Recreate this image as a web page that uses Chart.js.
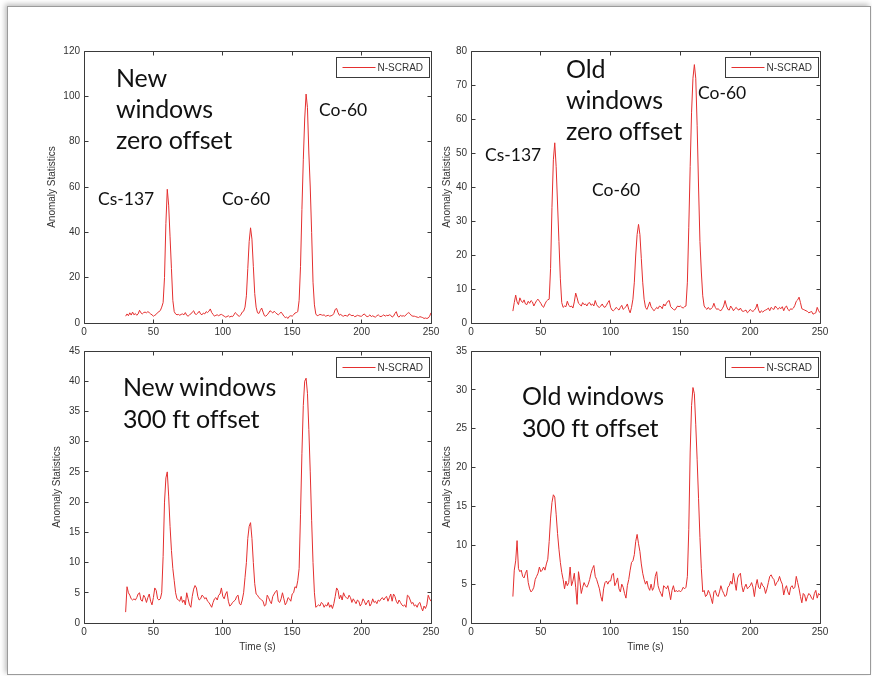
<!DOCTYPE html>
<html>
<head>
<meta charset="utf-8">
<title>N-SCRAD anomaly statistics</title>
<script src="https://cdn.jsdelivr.net/npm/chart.js@4.4.1/dist/chart.umd.min.js"></script>
<style>
  body { margin: 0; background: #fff; width: 872px; height: 676px; overflow: hidden; position: relative; }
  .frame { position: absolute; left: 7px; top: 6px; width: 862px; height: 667px; border: 1px solid #9b9b9b; box-shadow: -2px -2px 5px rgba(0,0,0,0.25); background: #fff; }
  canvas { position: absolute; }
  .note { position: absolute; font-family: Lato, "Open Sans", sans-serif; color: #111; white-space: nowrap; }
  .big { font-size: 25px; line-height: 31px; letter-spacing: -0.15px; }
  .big2 { font-size: 25px; line-height: 32px; letter-spacing: -0.15px; }
  .small { font-size: 17.5px; line-height: 24px; }
</style>
</head>
<body>
<div class="frame"></div>

<canvas id="newZero" width="397" height="298" style="left:46px;top:41px"></canvas>
<canvas id="oldZero" width="391" height="298" style="left:441px;top:41px"></canvas>
<canvas id="new300" width="392" height="314" style="left:51px;top:341px"></canvas>
<canvas id="old300" width="391" height="314" style="left:441px;top:341px"></canvas>

<div class="note big" style="left:116px;top:62px">New<br>windows<br>zero offset</div>
<div class="note small" style="left:98px;top:187px">Cs-137</div>
<div class="note small" style="left:222px;top:187px">Co-60</div>
<div class="note small" style="left:319px;top:98px">Co-60</div>

<div class="note big" style="left:566px;top:53px">Old<br>windows<br>zero offset</div>
<div class="note small" style="left:485px;top:143px">Cs-137</div>
<div class="note small" style="left:592px;top:178px">Co-60</div>
<div class="note small" style="left:698px;top:81px">Co-60</div>

<div class="note big2" style="left:123px;top:370px">New windows<br>300 ft offset</div>
<div class="note big2" style="left:522px;top:379px">Old windows<br>300 ft offset</div>

<script>
// time axis: one sample per second starting at 30 s
const startTime = 30;
const timeTicks = [0, 50, 100, 150, 200, 250];

const newZeroTicks = [0, 20, 40, 60, 80, 100, 120];
const oldZeroTicks = [0, 10, 20, 30, 40, 50, 60, 70, 80];
const new300Ticks = [0, 5, 10, 15, 20, 25, 30, 35, 40, 45];
const old300Ticks = [0, 5, 10, 15, 20, 25, 30, 35];

// New windows, zero offset
const newZero = [
  3.0, 4.0, 3.2, 4.5, 3.5, 4.8, 3.6, 4.2, 3.4, 4.0,
  5.6, 4.5, 4.0, 4.6, 4.8, 4.5, 5.0, 4.6, 4.0, 3.6,
  3.0, 3.4, 3.8, 4.6, 5.0, 5.5, 7.0, 9.0, 20, 44,
  59, 52, 38, 24, 10, 5.0, 4.0, 3.6, 3.8, 3.4,
  3.8, 4.0, 3.6, 4.6, 3.4, 3.0, 3.6, 4.0, 4.8, 5.4,
  4.0, 3.8, 4.4, 5.2, 4.0, 3.6, 4.4, 4.0, 5.0, 4.6,
  5.2, 6.2, 4.6, 3.8, 3.0, 3.4, 3.6, 3.2, 3.6, 3.8,
  3.4, 3.0, 2.6, 2.8, 3.2, 2.6, 3.0, 2.8, 3.6, 4.6,
  4.0, 3.2, 3.0, 3.6, 4.8, 5.2, 7.0, 12, 24, 36,
  42, 37, 25, 13, 7.0, 4.5, 4.2, 5.5, 6.6, 4.8,
  3.2, 3.0, 3.6, 4.4, 5.4, 5.0, 4.4, 5.2, 4.6, 4.0,
  3.6, 4.2, 4.8, 4.0, 3.0, 2.4, 2.6, 2.0, 3.0, 3.2,
  3.0, 3.6, 4.4, 4.6, 5.0, 10, 25, 50, 72, 90,
  101, 95, 75, 60, 40, 18, 8.0, 4.0, 3.2, 3.4,
  3.8, 3.6, 3.4, 3.6, 3.0, 3.2, 3.4, 3.0, 3.2, 3.4,
  4.2, 6.0, 6.4, 4.6, 3.4, 3.8, 3.2, 3.0, 3.4, 3.2,
  3.0, 4.0, 3.6, 3.2, 3.4, 2.8, 3.0, 3.4, 3.2, 3.0,
  3.0, 3.6, 4.0, 3.2, 2.8, 3.0, 3.6, 2.8, 3.2, 2.8,
  2.6, 3.2, 3.6, 3.0, 2.8, 3.2, 3.6, 3.0, 3.4, 3.2,
  3.6, 3.4, 2.6, 3.0, 4.2, 5.0, 3.0, 2.6, 3.4, 3.0,
  3.2, 3.0, 3.6, 4.2, 4.6, 4.0, 3.2, 3.0, 3.0, 2.8,
  2.6, 2.4, 2.8, 2.6, 2.4, 2.0, 2.2, 2.0, 2.2, 3.0,
  4.5
];

// Old windows, zero offset
const oldZero = [
  3.5, 6.0, 8.2, 6.2, 5.4, 7.4, 6.5, 6.0, 6.8, 5.6,
  5.4, 6.4, 5.8, 6.6, 6.2, 5.0, 5.8, 6.6, 7.0, 6.4,
  5.8, 5.0, 4.6, 5.6, 6.4, 6.8, 7.0, 16, 34, 48,
  53, 46, 35, 24, 13, 6.0, 4.6, 5.0, 4.8, 6.4,
  5.2, 4.8, 5.0, 4.4, 6.2, 8.8, 7.4, 5.8, 5.4, 5.0,
  6.0, 5.4, 5.6, 5.0, 5.8, 6.0, 5.2, 5.6, 5.0, 6.6,
  5.4, 4.8, 4.6, 5.0, 5.6, 4.8, 4.6, 5.2, 6.0, 6.6,
  4.6, 3.8, 3.6, 4.0, 4.6, 4.2, 3.8, 4.6, 5.2, 4.0,
  4.4, 4.8, 5.6, 4.0, 3.0, 4.6, 7.0, 12, 20, 26,
  29, 26, 19, 12, 7.0, 4.6, 4.0, 5.0, 6.2, 4.8,
  4.2, 3.6, 4.0, 4.6, 4.2, 5.0, 4.8, 4.2, 5.6, 5.0,
  5.8, 6.4, 6.6, 4.8, 4.4, 4.0, 3.8, 4.4, 5.0, 4.8,
  5.0, 4.6, 4.4, 4.8, 5.0, 12, 28, 46, 62, 72,
  76, 72, 58, 40, 24, 15, 8.0, 5.0, 4.4, 4.0,
  4.6, 4.0, 4.2, 4.6, 5.8, 4.6, 4.0, 4.2, 3.8, 3.6,
  4.2, 5.0, 6.6, 5.0, 4.0, 3.8, 5.0, 4.4, 3.6, 4.2,
  4.6, 4.0, 3.8, 4.4, 3.6, 3.4, 3.6, 3.8, 3.0, 3.4,
  4.0, 3.6, 3.4, 3.8, 4.4, 5.6, 3.8, 3.0, 3.6, 3.2,
  3.6, 3.8, 4.0, 4.4, 3.6, 4.6, 4.2, 4.0, 5.0, 4.4,
  4.0, 4.6, 4.2, 4.8, 3.6, 4.6, 5.0, 4.0, 3.6, 4.2,
  4.0, 4.4, 5.2, 6.4, 6.8, 7.6, 6.0, 4.2, 4.0, 3.8,
  3.6, 3.4, 3.0, 3.2, 3.4, 2.6, 2.8, 3.0, 4.6, 3.6,
  3.0
];

// New windows, 300 ft offset
const new300 = [
  1.8, 6.0, 5.0, 4.6, 4.0, 3.8, 4.0, 3.8, 4.2, 4.8,
  5.0, 3.8, 3.6, 4.6, 4.2, 3.4, 4.2, 4.8, 3.6, 3.0,
  4.2, 5.8, 5.4, 4.0, 3.8, 4.0, 5.0, 11, 20, 24,
  25, 21, 16, 12, 9.0, 7.0, 5.0, 4.0, 3.8, 3.6,
  4.4, 3.4, 3.8, 3.0, 5.0, 4.0, 3.0, 2.6, 4.4, 5.6,
  6.2, 5.8, 4.4, 3.8, 4.0, 4.6, 4.4, 4.0, 4.2, 3.6,
  3.4, 3.0, 2.6, 3.4, 4.0, 4.2, 3.8, 4.6, 4.8, 5.8,
  4.4, 4.0, 4.8, 5.2, 3.6, 2.8, 3.0, 3.4, 3.6, 3.8,
  4.4, 4.6, 3.2, 3.0, 3.8, 5.0, 7.5, 10, 14, 16,
  16.6, 14, 10, 6.5, 4.8, 4.6, 4.2, 4.0, 3.8, 3.6,
  2.8, 3.0, 4.6, 4.2, 3.6, 3.2, 4.4, 4.8, 5.2, 5.4,
  3.6, 3.4, 4.0, 5.0, 4.0, 3.0, 3.4, 4.2, 4.0, 3.6,
  4.8, 5.0, 6.0, 5.8, 7.0, 9.0, 18, 28, 36, 40,
  40.5, 38, 32, 25, 17, 10, 5.0, 2.6, 2.8, 3.0,
  2.8, 3.4, 3.2, 2.6, 3.0, 2.8, 3.4, 2.6, 3.0, 2.4,
  3.2, 4.4, 5.8, 5.4, 4.0, 4.6, 3.8, 5.0, 4.4, 4.2,
  4.0, 4.6, 4.2, 3.4, 4.0, 3.6, 3.2, 3.8, 3.6, 2.8,
  3.2, 4.0, 3.6, 3.0, 3.4, 3.8, 2.8, 3.2, 4.0, 3.4,
  3.6, 3.2, 3.8, 3.6, 4.0, 4.2, 3.8, 4.2, 4.4, 3.6,
  4.2, 4.8, 3.6, 4.8, 4.4, 3.6, 3.2, 3.8, 3.4, 3.0,
  2.8, 3.0, 2.6, 4.6, 4.4, 3.8, 3.2, 3.4, 2.8, 3.0,
  2.6, 3.2, 3.4, 2.6, 2.0, 2.8, 2.4, 3.0, 4.6, 4.0,
  3.6
];

// Old windows, 300 ft offset
const old300 = [
  3.4, 6.8, 8.0, 10.6, 7.0, 6.6, 6.8, 6.0, 5.8, 6.4,
  6.8, 5.2, 4.4, 4.0, 4.2, 4.6, 5.6, 6.0, 6.4, 7.2,
  6.6, 6.8, 7.2, 6.8, 7.6, 8.2, 10.5, 13.5, 15.5, 16.5,
  16.2, 14.0, 11.5, 9.5, 7.8, 6.5, 5.6, 4.4, 5.4, 4.8,
  5.2, 7.2, 4.8, 5.4, 6.4, 4.6, 2.4, 6.6, 5.4, 3.8,
  4.6, 5.2, 4.8, 4.6, 5.0, 5.6, 6.4, 7.0, 7.4, 6.0,
  5.6, 5.0, 4.4, 3.4, 2.8, 4.4, 5.2, 5.4, 5.0, 5.4,
  5.4, 6.2, 6.4, 4.8, 5.2, 5.8, 4.4, 4.0, 5.0, 4.6,
  3.8, 3.2, 4.8, 5.6, 6.8, 7.8, 8.0, 8.8, 10.5, 11.4,
  10.2, 9.2, 7.6, 6.4, 5.6, 5.0, 5.4, 4.6, 4.2, 5.0,
  4.2, 4.6, 6.0, 6.6, 4.8, 4.2, 3.8, 3.4, 4.8, 4.6,
  4.4, 4.8, 4.0, 3.0, 4.2, 4.8, 4.0, 4.2, 4.0, 4.2,
  4.0, 4.2, 4.6, 4.4, 4.6, 6.0, 12, 22, 28, 30.3,
  29.5, 25.5, 21, 16, 11, 7.0, 4.0, 4.2, 3.4, 3.6,
  4.2, 3.8, 3.2, 2.5, 4.0, 4.2, 3.6, 3.4, 4.0, 4.8,
  4.2, 3.8, 3.4, 3.6, 4.6, 4.8, 5.4, 5.0, 6.4, 5.2,
  4.2, 5.8, 6.2, 6.4, 4.8, 4.0, 4.6, 5.0, 4.4, 4.6,
  4.8, 5.2, 4.6, 3.4, 4.8, 5.6, 4.6, 4.4, 5.2, 4.8,
  4.6, 3.8, 4.4, 5.2, 6.0, 6.2, 5.8, 5.6, 4.8, 5.2,
  5.4, 6.0, 5.4, 5.0, 3.6, 4.4, 4.8, 4.0, 3.6, 4.6,
  4.8, 4.4, 4.6, 6.0, 5.2, 4.4, 3.4, 2.6, 3.8, 3.6,
  2.8, 3.4, 3.8, 3.6, 3.2, 3.0, 3.8, 4.2, 3.2, 3.8,
  3.6
];

const lineColor = "#e42f2f";
const axisColor = "#3a3a3a";
const textColor = "#333333";
const tickFont = { family: "'Liberation Sans', Arial, sans-serif", size: 10 };

// MATLAB style box: full frame with inward ticks on all four sides
const matlabBox = {
    id: "matlabBox",
    afterDatasetsDraw(chart) {
        const { ctx, chartArea, scales } = chart;
        const l = Math.floor(chartArea.left) + 0.5;
        const r = Math.floor(chartArea.right) + 0.5;
        const t = Math.floor(chartArea.top) + 0.5;
        const b = Math.floor(chartArea.bottom) + 0.5;
        const len = 4;
        ctx.save();
        ctx.strokeStyle = axisColor;
        ctx.lineWidth = 1;
        ctx.beginPath();
        ctx.rect(l, t, r - l, b - t);
        scales.x.ticks.forEach(tick => {
            const px = Math.floor(scales.x.getPixelForValue(tick.value)) + 0.5;
            ctx.moveTo(px, b); ctx.lineTo(px, b - len);
            ctx.moveTo(px, t); ctx.lineTo(px, t + len);
        });
        scales.y.ticks.forEach(tick => {
            const py = Math.floor(scales.y.getPixelForValue(tick.value)) + 0.5;
            ctx.moveTo(l, py); ctx.lineTo(l + len, py);
            ctx.moveTo(r, py); ctx.lineTo(r - len, py);
        });
        ctx.stroke();
        ctx.restore();
    }
};

// small boxed legend in the top right corner of the axes
const boxLegend = {
    id: "boxLegend",
    afterDraw(chart) {
        const { ctx, chartArea } = chart;
        const ds = chart.data.datasets[0];
        const w = 93, h = 20;
        const x = Math.floor(chartArea.right) - w - 2 + 0.5;
        const y = Math.floor(chartArea.top) + 6 + 0.5;
        ctx.save();
        ctx.fillStyle = "#ffffff";
        ctx.fillRect(x, y, w, h);
        ctx.strokeStyle = axisColor;
        ctx.lineWidth = 1;
        ctx.strokeRect(x, y, w, h);
        ctx.strokeStyle = ds.borderColor;
        ctx.beginPath();
        ctx.moveTo(x + 6, y + h / 2);
        ctx.lineTo(x + 39, y + h / 2);
        ctx.stroke();
        ctx.fillStyle = textColor;
        ctx.font = "10px 'Liberation Sans', Arial, sans-serif";
        ctx.textBaseline = "middle";
        ctx.fillText(ds.label, x + 41, y + h / 2 + 0.5);
        ctx.restore();
    }
};

function makePanel(canvasId, values, yTicks, opts) {
    const points = values.map((v, i) => ({ x: startTime + i, y: v }));
    return new Chart(document.getElementById(canvasId), {
        type: "line",
        data: {
            datasets: [{
                label: "N-SCRAD",
                data: points,
                borderColor: lineColor,
                borderWidth: 1,
                pointRadius: 0,
                tension: 0,
                fill: false
            }]
        },
        options: {
            responsive: false,
            animation: false,
            devicePixelRatio: 1,
            layout: { padding: { left: 0, top: 8, right: 12, bottom: 0 } },
            plugins: { legend: { display: false }, tooltip: { enabled: false } },
            scales: {
                x: {
                    type: "linear",
                    min: timeTicks[0],
                    max: timeTicks[timeTicks.length - 1],
                    afterBuildTicks: scale => { scale.ticks = timeTicks.map(v => ({ value: v })); },
                    afterFit: scale => { scale.height = opts.xHeight; },
                    grid: { display: false, drawTicks: false },
                    border: { display: false },
                    ticks: { color: textColor, font: tickFont, padding: 3, maxRotation: 0, autoSkip: false },
                    title: {
                        display: opts.xTitle,
                        text: "Time (s)",
                        color: textColor,
                        font: tickFont,
                        padding: { top: 0, bottom: 2 }
                    }
                },
                y: {
                    min: yTicks[0],
                    max: yTicks[yTicks.length - 1],
                    afterBuildTicks: scale => { scale.ticks = yTicks.map(v => ({ value: v })); },
                    afterFit: scale => { scale.width = opts.yWidth; },
                    grid: { display: false, drawTicks: false },
                    border: { display: false },
                    ticks: { color: textColor, font: tickFont, padding: 4, autoSkip: false },
                    title: {
                        display: true,
                        text: "Anomaly Statistics",
                        color: textColor,
                        font: tickFont,
                        padding: { top: 0, bottom: 0 }
                    }
                }
            }
        },
        plugins: [matlabBox, boxLegend]
    });
}

makePanel("newZero", newZero, newZeroTicks, { yWidth: 38, xHeight: 16, xTitle: false });
makePanel("oldZero", oldZero, oldZeroTicks, { yWidth: 30, xHeight: 16, xTitle: false });
makePanel("new300", new300, new300Ticks, { yWidth: 33, xHeight: 32, xTitle: true });
makePanel("old300", old300, old300Ticks, { yWidth: 30, xHeight: 32, xTitle: true });
</script>
</body>
</html>
